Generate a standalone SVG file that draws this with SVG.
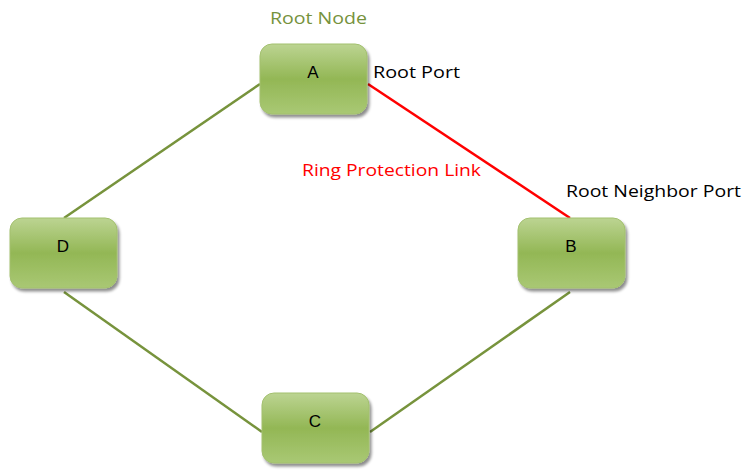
<svg xmlns="http://www.w3.org/2000/svg" width="744" height="470" viewBox="0 0 744 470">
<defs>
<linearGradient id="g" x1="0" y1="0" x2="0" y2="1">
<stop offset="0" stop-color="#bcd492"/>
<stop offset="0.5" stop-color="#93b755"/>
<stop offset="1" stop-color="#a9c874"/>
</linearGradient>
<filter id="sh" x="-10%" y="-10%" width="130%" height="140%">
<feGaussianBlur in="SourceAlpha" stdDeviation="1.5"/>
<feOffset dx="2" dy="3" result="o"/>
<feComponentTransfer><feFuncA type="linear" slope="0.45"/></feComponentTransfer>
<feMerge><feMergeNode/><feMergeNode in="SourceGraphic"/></feMerge>
</filter>
</defs>
<style>
.box{fill:url(#g);stroke:#a3c06f;stroke-width:1;filter:url(#sh)}
.lbl{font-family:"Liberation Sans",Arial,sans-serif;font-size:17px;fill:#000;text-anchor:middle}
.t{font-family:"Open Sans","Liberation Sans",sans-serif;font-size:17px}
.ln{stroke:#77933c;stroke-width:2.5;fill:none}
</style>
<rect width="744" height="470" fill="#fff"/>
<g id="connectors">
<line class="ln" x1="260" y1="84" x2="64" y2="218"/>
<line class="ln" x1="64" y1="292" x2="262" y2="432"/>
<line class="ln" x1="370" y1="432" x2="570" y2="292"/>
<line x1="368" y1="84" x2="570" y2="218" stroke="#ff0000" stroke-width="2.5"/>
</g>
<g id="A"><rect class="box" x="260" y="44" width="107" height="70" rx="12"/><text class="lbl" x="313" y="78">A</text></g>
<g id="B"><rect class="box" x="518" y="218" width="107" height="70" rx="12"/><text class="lbl" x="571" y="252">B</text></g>
<g id="C"><rect class="box" x="262" y="393" width="107" height="70" rx="12"/><text class="lbl" x="315" y="427">C</text></g>
<g id="D"><rect class="box" x="10" y="218" width="107" height="70" rx="12"/><text class="lbl" x="63" y="252">D</text></g>
<g id="labels">
<text class="t" x="270" y="24" fill="#76923c" textLength="97" lengthAdjust="spacingAndGlyphs">Root Node</text>
<text class="t" x="373" y="78" fill="#000" textLength="87" lengthAdjust="spacingAndGlyphs">Root Port</text>
<text class="t" x="302" y="176" fill="#ff0000" textLength="179" lengthAdjust="spacingAndGlyphs">Ring Protection Link</text>
<text class="t" x="566" y="197" fill="#000" textLength="175" lengthAdjust="spacingAndGlyphs">Root Neighbor Port</text>
</g>
</svg>
